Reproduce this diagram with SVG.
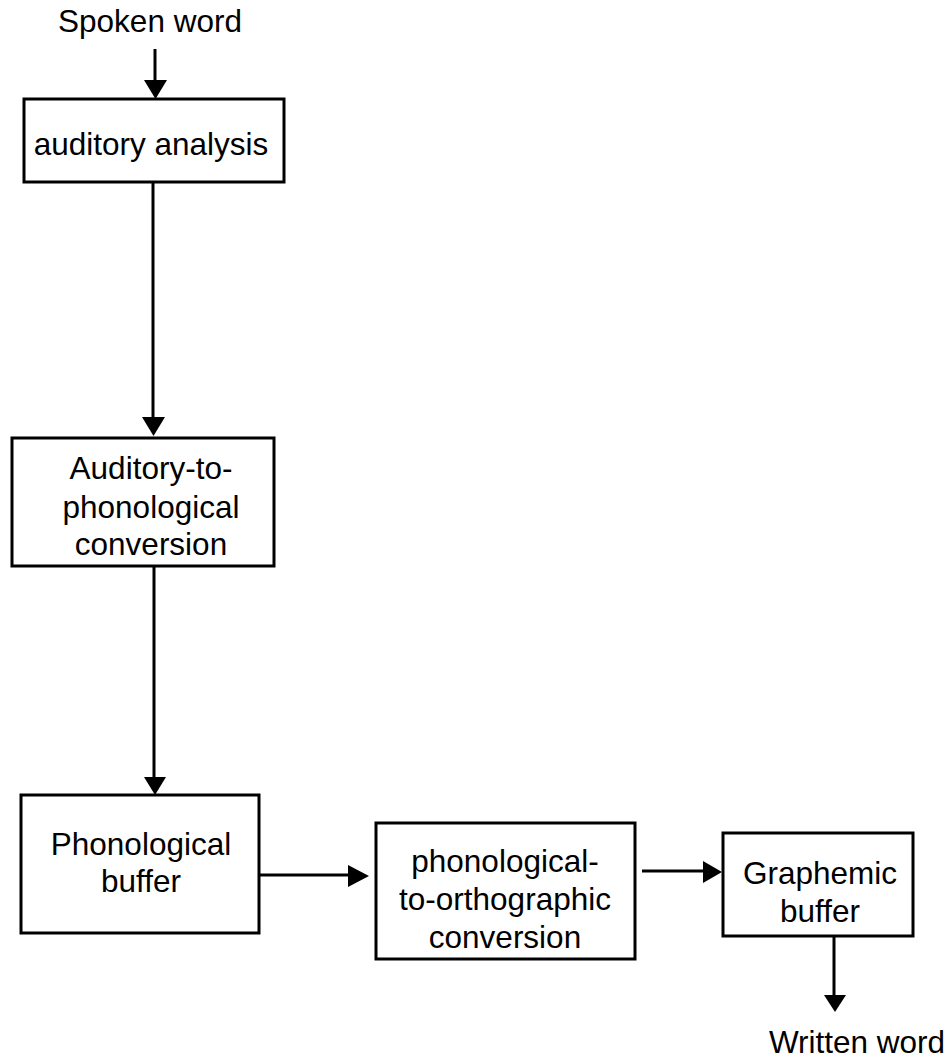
<svg xmlns="http://www.w3.org/2000/svg" width="950" height="1063" viewBox="0 0 950 1063">
<style>
.box{fill:#fff;stroke:#000;stroke-width:3}
.t{font-family:"Liberation Sans",Arial,sans-serif;font-size:31.5px;fill:#000;text-anchor:middle}
.ln{stroke:#000;stroke-width:3;fill:none}
.hd{fill:#000;stroke:none}
</style>
<rect width="950" height="1063" fill="#fff"/>
<g id="connectors">
<line class="ln" x1="155" y1="49" x2="155" y2="82"/>
<polygon class="hd" points="144,80 167,80 155.5,99"/>
<line class="ln" x1="153" y1="182" x2="153" y2="419"/>
<polygon class="hd" points="142,417 165,417 153.5,436"/>
<line class="ln" x1="154" y1="566" x2="154" y2="779"/>
<polygon class="hd" points="144,777 166,777 155,795"/>
<line class="ln" x1="260" y1="875" x2="350" y2="875"/>
<polygon class="hd" points="348,865 348,887 369,876"/>
<line class="ln" x1="642" y1="871" x2="705" y2="871"/>
<polygon class="hd" points="703,861 703,883 722,872"/>
<line class="ln" x1="834" y1="936" x2="834" y2="997"/>
<polygon class="hd" points="824,995 846,995 835,1012"/>
</g>
<g id="spoken-word"><text class="t" x="150" y="32">Spoken word</text></g>
<g id="auditory-analysis">
<rect class="box" x="24" y="99" width="260" height="83"/>
<text class="t" x="151" y="155">auditory analysis</text>
</g>
<g id="auditory-to-phonological">
<rect class="box" x="12" y="438" width="262" height="128"/>
<text class="t" x="151" y="479">Auditory-to-</text>
<text class="t" x="151" y="518">phonological</text>
<text class="t" x="151" y="555">conversion</text>
</g>
<g id="phonological-buffer">
<rect class="box" x="21" y="795" width="238" height="138"/>
<text class="t" x="141" y="855">Phonological</text>
<text class="t" x="141" y="892">buffer</text>
</g>
<g id="phonological-to-orthographic">
<rect class="box" x="376" y="823" width="259" height="136"/>
<text class="t" x="505" y="872">phonological-</text>
<text class="t" x="505" y="910">to-orthographic</text>
<text class="t" x="505" y="948">conversion</text>
</g>
<g id="graphemic-buffer">
<rect class="box" x="723" y="833" width="190" height="103"/>
<text class="t" x="820" y="884">Graphemic</text>
<text class="t" x="820" y="922">buffer</text>
</g>
<g id="written-word"><text class="t" x="857" y="1053">Written word</text></g>
</svg>
